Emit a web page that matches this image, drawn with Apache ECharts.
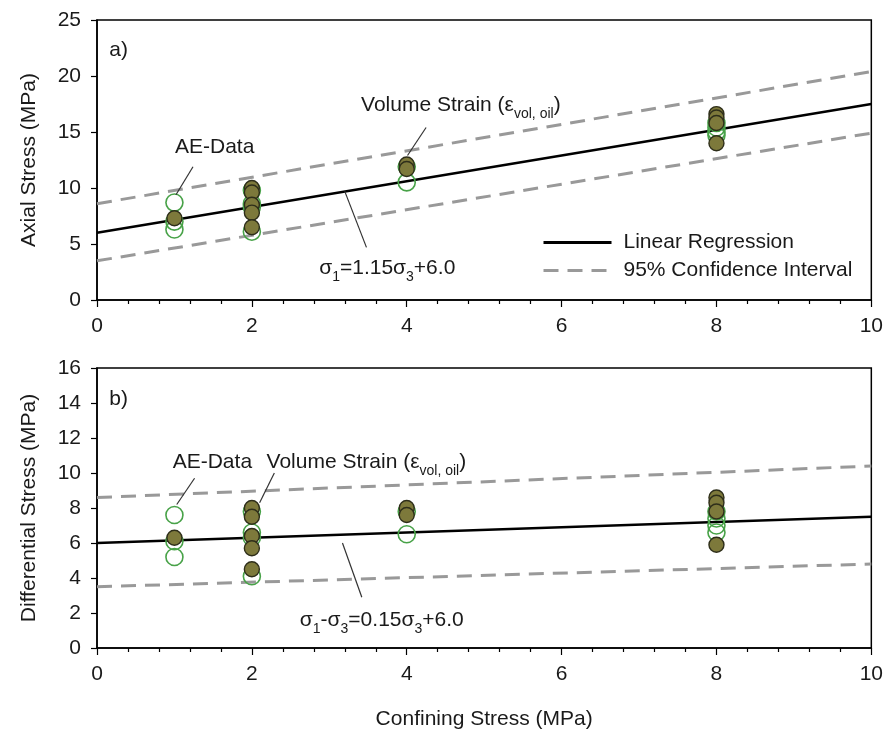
<!DOCTYPE html>
<html>
<head>
<meta charset="utf-8">
<script src="https://cdn.jsdelivr.net/npm/echarts@6/dist/echarts.min.js"></script>
<style>
  html, body { margin: 0; padding: 0; background: #fff; }
  #chart { width: 886px; height: 738px; }
</style>
</head>
<body>
<div id="chart"></div>
<script>
// Confining stress levels tested (MPa)
const confining = [1, 2, 4, 8];

// a) Axial stress at failure, per confining level
const axialVolStrain = [[7.3], [10.0, 9.6, 8.5, 7.8, 6.5], [12.1, 11.7], [16.6, 16.3, 15.8, 14.0]];
const axialAE = [[8.7, 7.0, 6.3], [9.8, 8.6, 8.3, 6.1], [11.9, 10.5], [15.8, 15.4, 15.0, 14.7]];

// b) Differential stress at failure, per confining level
const diffVolStrain = [[6.3], [8.0, 7.5, 6.4, 5.7, 4.5], [8.0, 7.6], [8.6, 8.3, 7.8, 5.9]];
const diffAE = [[7.6, 6.1, 5.2], [7.8, 6.6, 6.3, 4.1], [7.8, 6.5], [7.8, 7.4, 7.0, 6.6]];

// Regression line and 95% band, evaluated at the ends of the axis
const fitX = [0, 10];
const axialFit = [6.0, 17.5];
const axialUpper = [8.6, 20.4];
const axialLower = [3.5, 14.9];
const diffFit = [6.0, 7.5];
const diffUpper = [8.6, 10.4];
const diffLower = [3.5, 4.8];

// Axis ranges and tick steps
const xTicks = { min: 0, max: 10, interval: 2 };
const axialTicks = { min: 0, max: 25, interval: 5 };
const diffTicks = { min: 0, max: 16, interval: 2 };

const FONT = 'Liberation Sans, Arial, sans-serif';
const FS = 21;
const TXT = '#1a1a1a';

function pairs(groups) {
  const out = [];
  groups.forEach((vals, i) => vals.forEach(v => out.push([confining[i], v])));
  return out;
}
function linePts(ys) { return fitX.map((x, i) => [x, ys[i]]); }

const grids = [
  { left: 97, width: 776, top: 20, height: 280 },
  { left: 97, width: 776, top: 368, height: 280 }
];

function xAxis(gi, withName) {
  return {
    type: 'value', gridIndex: gi, min: xTicks.min, max: xTicks.max, interval: xTicks.interval,
    name: withName ? 'Confining Stress (MPa)' : '',
    nameLocation: 'middle', nameGap: 61,
    nameTextStyle: { fontFamily: FONT, fontSize: FS, color: TXT },
    axisLine: { lineStyle: { color: '#000', width: 1.5 } },
    axisTick: { show: true, inside: false, length: 7, lineStyle: { color: '#000', width: 1.2 } },
    minorTick: { show: true, splitNumber: 5, length: 4, lineStyle: { color: '#000', width: 1.2 } },
    axisLabel: { fontFamily: FONT, fontSize: FS, color: TXT, margin: 16 },
    splitLine: { show: false }
  };
}
function yAxis(gi, ticks, name) {
  return {
    type: 'value', gridIndex: gi, min: ticks.min, max: ticks.max, interval: ticks.interval,
    name: name, nameLocation: 'middle', nameGap: 57,
    nameTextStyle: { fontFamily: FONT, fontSize: FS, color: TXT },
    axisLine: { show: true, lineStyle: { color: '#000', width: 1.5 } },
    axisTick: { show: true, inside: false, length: 6, lineStyle: { color: '#000', width: 1.2 } },
    axisLabel: { fontFamily: FONT, fontSize: FS, color: TXT, margin: 16 },
    splitLine: { show: false }
  };
}

const solidStyle = { color: '#000', width: 2.5, type: 'solid' };
const dashStyle = { color: '#999', width: 3, type: [15, 9] };

function lineSeries(name, gi, ys, style) {
  return {
    name: name, type: 'line', xAxisIndex: gi, yAxisIndex: gi,
    data: linePts(ys), symbol: 'none', lineStyle: style, itemStyle: { color: style.color },
    silent: true, z: 2, animation: false
  };
}
function openSeries(name, gi, groups) {
  return {
    name: name, type: 'scatter', xAxisIndex: gi, yAxisIndex: gi, data: pairs(groups),
    symbolSize: 17,
    itemStyle: { color: 'rgba(255,255,255,0)', borderColor: '#48a248', borderWidth: 1.6, opacity: 1 },
    z: 3, animation: false
  };
}
function filledSeries(name, gi, groups) {
  return {
    name: name, type: 'scatter', xAxisIndex: gi, yAxisIndex: gi, data: pairs(groups),
    symbolSize: 15,
    itemStyle: { color: '#7d793b', borderColor: '#2e2e1a', borderWidth: 1.4, opacity: 1 },
    z: 4, animation: false
  };
}

const chart = echarts.init(document.getElementById('chart'), null, { renderer: 'canvas' });

chart.setOption({
  backgroundColor: '#fff',
  animation: false,
  grid: grids.map(g => Object.assign({ show: true, borderColor: '#000', borderWidth: 1.5, backgroundColor: 'transparent' }, g)),
  xAxis: [xAxis(0, false), xAxis(1, true)],
  yAxis: [yAxis(0, axialTicks, 'Axial Stress (MPa)'), yAxis(1, diffTicks, 'Differential Stress (MPa)')],
  legend: {
    data: ['Linear Regression', '95% Confidence Interval'],
    orient: 'vertical', left: 537, top: 227, itemWidth: 68, itemHeight: 20, itemGap: 7,
    selectedMode: false,
    itemStyle: { color: 'rgba(0,0,0,0)', borderColor: 'rgba(0,0,0,0)', borderWidth: 0 },
    lineStyle: { width: 3 },
    textStyle: { fontFamily: FONT, fontSize: FS, color: TXT, padding: [0, 0, 0, 7] }
  },
  series: [
    lineSeries('Linear Regression', 0, axialFit, solidStyle),
    lineSeries('95% Confidence Interval', 0, axialUpper, dashStyle),
    lineSeries('95% Confidence Interval', 0, axialLower, dashStyle),
    openSeries('AE-Data (axial)', 0, axialAE),
    filledSeries('Volume Strain (axial)', 0, axialVolStrain),
    lineSeries('Regression (differential)', 1, diffFit, solidStyle),
    lineSeries('Upper bound (differential)', 1, diffUpper, dashStyle),
    lineSeries('Lower bound (differential)', 1, diffLower, dashStyle),
    openSeries('AE-Data (differential)', 1, diffAE),
    filledSeries('Volume Strain (differential)', 1, diffVolStrain)
  ]
});

// Annotations: labels and leader lines anchored in data space of each panel
const rich = {
  m: { fontFamily: FONT, fontSize: FS, color: TXT, lineHeight: 26, verticalAlign: 'middle' },
  s: { fontFamily: FONT, fontSize: 14, color: TXT, lineHeight: 26, verticalAlign: 'bottom', padding: [0, 0, -3, 0] }
};
const notes = [
  { gi: 0, text: '{m|AE-Data}', at: [1.52, 13.6], align: 'center', from: [1.24, 11.9], to: [1.02, 9.4] },
  { gi: 0, text: '{m|Volume Strain (ε}{s|vol, oil}{m|)}', at: [3.41, 17.4], align: 'left', from: [4.25, 15.4], to: [4.01, 12.9] },
  { gi: 0, text: '{m|σ}{s|1}{m|=1.15σ}{s|3}{m|+6.0}', at: [2.87, 2.85], align: 'left', from: [3.2, 9.7], to: [3.48, 4.7] },
  { gi: 1, text: '{m|AE-Data}', at: [1.49, 10.6], align: 'center', from: [1.26, 9.7], to: [1.03, 8.2] },
  { gi: 1, text: '{m|Volume Strain (ε}{s|vol, oil}{m|)}', at: [2.19, 10.6], align: 'left', from: [2.29, 10.0], to: [2.10, 8.3] },
  { gi: 1, text: '{m|σ}{s|1}{m|-σ}{s|3}{m|=0.15σ}{s|3}{m|+6.0}', at: [2.62, 1.6], align: 'left', from: [3.17, 6.0], to: [3.42, 2.9] }
];

const graphics = [];
notes.forEach(n => {
  const finder = { gridIndex: n.gi };
  const p = chart.convertToPixel(finder, n.at);
  const a = chart.convertToPixel(finder, n.from);
  const b = chart.convertToPixel(finder, n.to);
  graphics.push({
    type: 'text', x: p[0], y: p[1], silent: true, z: 10,
    style: { text: n.text, rich: rich, align: n.align, verticalAlign: 'middle', fill: TXT }
  });
  graphics.push({
    type: 'line', silent: true, z: 10,
    shape: { x1: a[0], y1: a[1], x2: b[0], y2: b[1] },
    style: { stroke: '#333', lineWidth: 1.2 }
  });
});
// Panel tags
[['a)', 0, [0.28, 22.3]], ['b)', 1, [0.28, 14.2]]].forEach(t => {
  const p = chart.convertToPixel({ gridIndex: t[1] }, t[2]);
  graphics.push({
    type: 'text', x: p[0], y: p[1], silent: true,
    style: { text: t[0], font: FS + 'px ' + FONT, fill: TXT, align: 'center', verticalAlign: 'middle' }
  });
});
chart.setOption({ graphic: graphics });
</script>
</body>
</html>
